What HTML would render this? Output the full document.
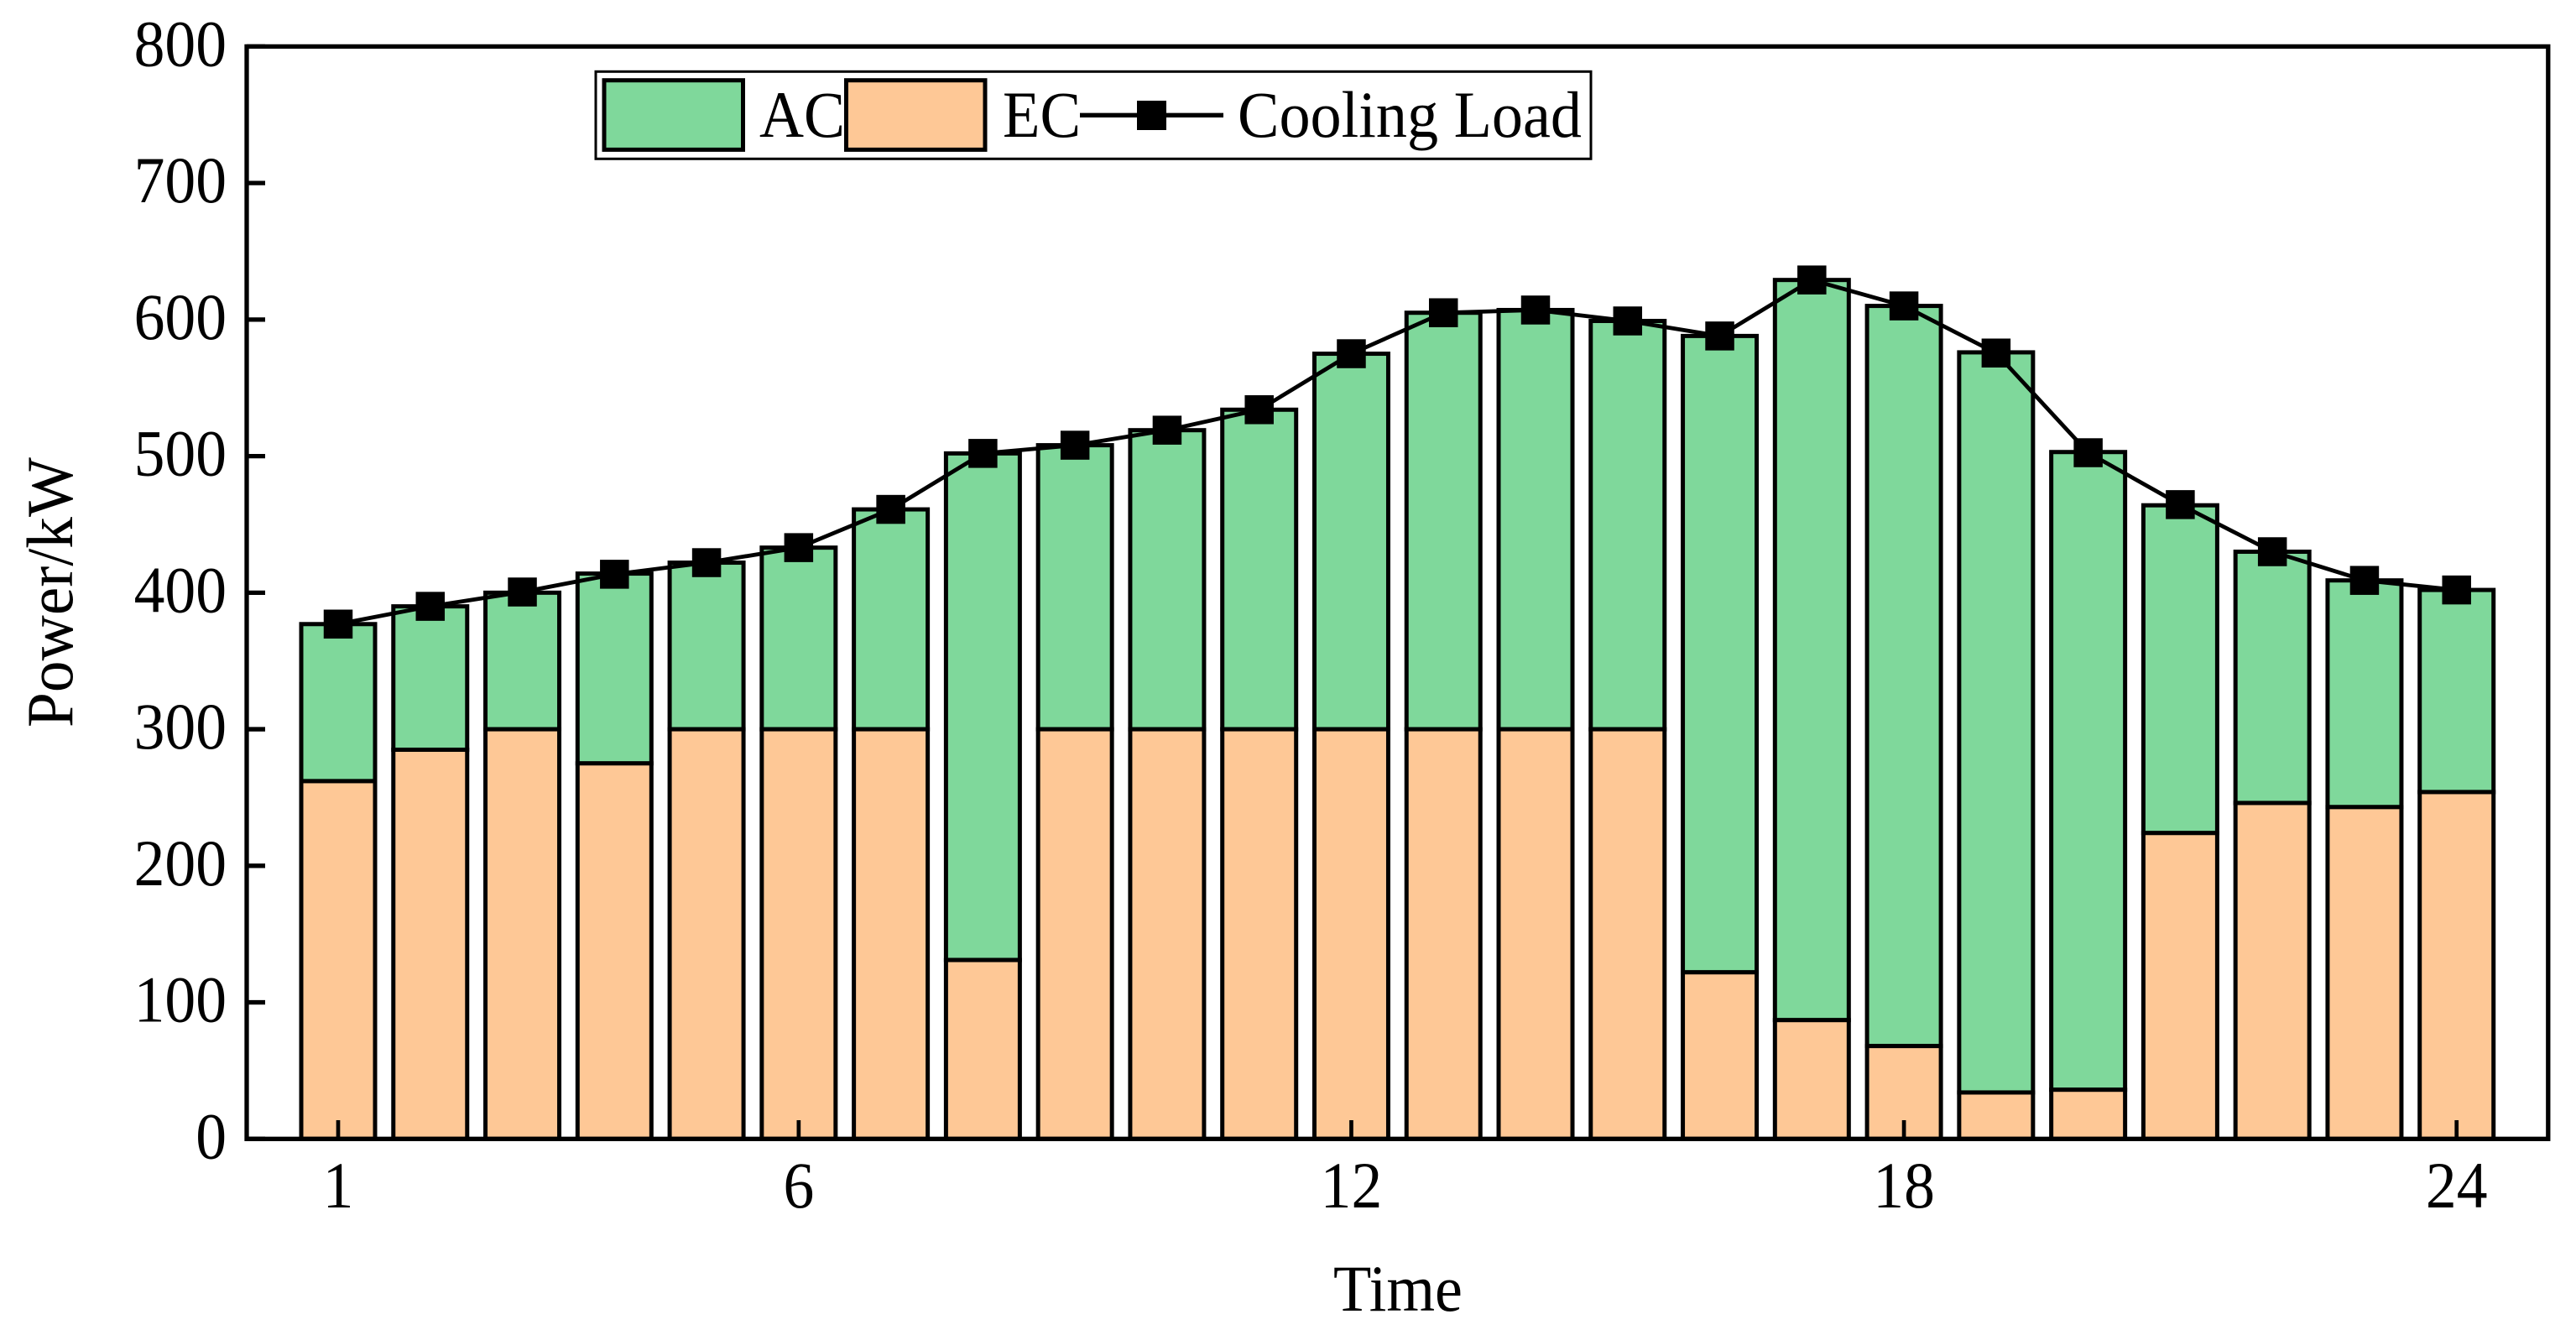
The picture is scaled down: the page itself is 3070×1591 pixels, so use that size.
<!DOCTYPE html>
<html lang="en">
<head>
<meta charset="utf-8">
<title>Power by time: AC, EC and cooling load</title>
<style>
  html, body { margin: 0; padding: 0; background: #fff; }
  body { width: 3070px; height: 1591px; overflow: hidden; }
  svg { display: block; }
  text { font-family: "Liberation Serif", "Times New Roman", serif; fill: #000; }
</style>
</head>
<body>
<svg id="chart" xmlns="http://www.w3.org/2000/svg" width="3070" height="1591" viewBox="0 0 3070 1591">
  <rect x="0" y="0" width="3070" height="1591" fill="#ffffff"/>
  <g id="bars"></g>
  <g id="line-layer"></g>
  <rect x="294" y="55.4" width="2742.8" height="1301.9" fill="none" stroke="#000" stroke-width="5.3"/>
  <g id="axes"></g>
  <text transform="translate(86,867) rotate(-90)" font-size="78" textLength="322" lengthAdjust="spacingAndGlyphs">Power/kW</text>
  <text x="1589" y="1562" font-size="78" textLength="154" lengthAdjust="spacingAndGlyphs">Time</text>
  <g>
    <rect x="710" y="85.3" width="1186" height="104" fill="#fff" stroke="#000" stroke-width="3"/>
    <rect x="720" y="95.7" width="165.5" height="82.7" fill="#7fd89b" stroke="#000" stroke-width="5"/>
    <text x="905" y="163" font-size="78" textLength="102" lengthAdjust="spacingAndGlyphs">AC</text>
    <rect x="1008.5" y="95.7" width="165.5" height="82.7" fill="#fec896" stroke="#000" stroke-width="5"/>
    <text x="1195" y="163" font-size="78" textLength="93" lengthAdjust="spacingAndGlyphs">EC</text>
    <line x1="1287" y1="137.3" x2="1458" y2="137.3" stroke="#000" stroke-width="5.3"/>
    <rect x="1355" y="120" width="35" height="35" fill="#000"/>
    <text x="1475" y="163" font-size="78" textLength="410" lengthAdjust="spacingAndGlyphs">Cooling Load</text>
  </g>
</svg>
<script>
// Chart data
const hours = [1,2,3,4,5,6,7,8,9,10,11,12,13,14,15,16,17,18,19,20,21,22,23,24];
const ecValues = [262,285,300,275,300,300,300,131,300,300,300,300,300,300,300,122,87,68,34,36,224,246,243,254];
const acValues = [115,105,100,139,122,133,161,371,208,219,234,275,305,307,299,466,542,542,542,467,240,184,166,148];
const coolingLoad = [377,390,400.5,413.5,422,433,461,502,508,519,534,575,605,607,599,588,629,610,575.5,502.5,464.5,430,409,402];
const yTickValues = [0,100,200,300,400,500,600,700,800];
const xTickValues = [1,6,12,18,24];

const SVG_NS = 'http://www.w3.org/2000/svg';

function xScale(hour) {
  return 403 + (hour - 1) * 109.77;
}
function yScale(value) {
  return 1357.3 - value * 1.6274;
}
function make(tag, attrs, parent) {
  const node = document.createElementNS(SVG_NS, tag);
  Object.keys(attrs).forEach(function (key) { node.setAttribute(key, attrs[key]); });
  parent.appendChild(node);
  return node;
}

const barWidth = 88;
const digitAdvance = 36.8;
const barsLayer = document.getElementById('bars');
const lineLayer = document.getElementById('line-layer');
const axesLayer = document.getElementById('axes');

hours.forEach(function (hour, i) {
  const left = xScale(hour) - barWidth / 2;
  const ecTop = yScale(ecValues[i]);
  const acTop = yScale(ecValues[i] + acValues[i]);

  const acBar = make('rect', { x: left, y: acTop, width: barWidth, height: ecTop - acTop, fill: '#7fd89b', stroke: '#000', 'stroke-width': 5 }, barsLayer);
  
  

  const ecBar = make('rect', { x: left, y: ecTop, width: barWidth, height: yScale(0) - ecTop, fill: '#fec896', stroke: '#000', 'stroke-width': 5 }, barsLayer);
  
  
});

const linePoints = hours.map(function (hour, i) {
  return xScale(hour) + ',' + yScale(coolingLoad[i]);
}).join(' ');
const loadLine = make('polyline', { points: linePoints, fill: 'none', stroke: '#000', 'stroke-width': 4.8, 'stroke-linejoin': 'round' }, lineLayer);



const markerSize = 34.5;
hours.forEach(function (hour, i) {
  const marker = make('rect', { x: xScale(hour) - markerSize / 2, y: yScale(coolingLoad[i]) - markerSize / 2, width: markerSize, height: markerSize, fill: '#000' }, lineLayer);
  
  
});

yTickValues.forEach(function (value) {
  const y = yScale(value);
  const tick = make('line', { x1: 294, y1: y, x2: 316, y2: y, stroke: '#000', 'stroke-width': 5.3 }, axesLayer);
  
  

  const labelText = String(value);
  const label = make('text', { x: 270, y: y + 23, 'font-size': 78, 'text-anchor': 'end', textLength: labelText.length * digitAdvance, lengthAdjust: 'spacingAndGlyphs' }, axesLayer);
  label.textContent = labelText;
  
  
});

xTickValues.forEach(function (hour) {
  const x = xScale(hour);
  const tick = make('line', { x1: x, y1: 1335, x2: x, y2: 1357, stroke: '#000', 'stroke-width': 4.7 }, axesLayer);
  
  

  const labelText = String(hour);
  const label = make('text', { x: x, y: 1439, 'font-size': 78, 'text-anchor': 'middle', textLength: labelText.length * digitAdvance, lengthAdjust: 'spacingAndGlyphs' }, axesLayer);
  label.textContent = labelText;
  
  
});
</script>
</body>
</html>
